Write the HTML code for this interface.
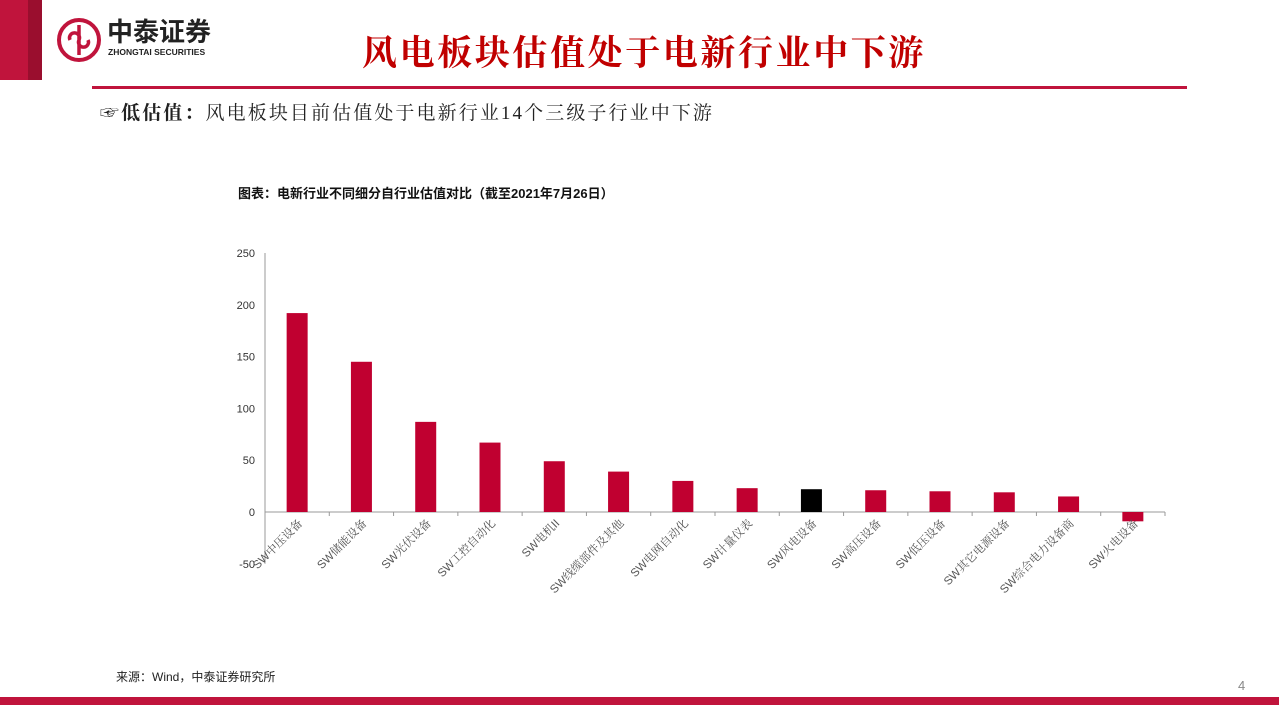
<!DOCTYPE html>
<html><head><meta charset="utf-8">
<style>
body{margin:0;width:1279px;height:719px;background:#fff;position:relative;overflow:hidden;font-family:"Liberation Sans","Noto Sans CJK SC",sans-serif}
.abs{position:absolute;line-height:1;white-space:nowrap}
</style></head><body>
<div class="abs" style="left:0;top:0;width:28px;height:80px;background:#c0143c"></div>
<div class="abs" style="left:28px;top:0;width:14px;height:80px;background:#9a0e2e"></div>
<svg class="abs" style="left:56px;top:17px" width="46" height="46" viewBox="0 0 46 46">
<circle cx="23" cy="23" r="20" fill="none" stroke="#c0143c" stroke-width="4"/>
<path d="M23 8 V38 M14 23 a5 5 0 1 1 9 0 a5 5 0 1 0 9 0" fill="none" stroke="#c0143c" stroke-width="3.5"/>
</svg>
<div class="abs" style="left:107px;top:19px;font-size:26px;font-weight:bold;color:#222">中泰证券</div>
<div class="abs" style="left:108px;top:48px;font-size:8.5px;font-weight:bold;color:#222">ZHONGTAI SECURITIES</div>
<div class="abs" style="left:362px;top:36px;font-size:35px;font-weight:bold;color:#c00000;font-family:'Liberation Serif','Noto Serif CJK SC',serif;letter-spacing:2.6px">风电板块估值处于电新行业中下游</div>
<div class="abs" style="left:92px;top:86px;width:1095px;height:3px;background:#c0143c"></div>
<div class="abs" style="left:100px;top:104px;font-size:19px;color:#222;font-family:'Liberation Serif','Noto Serif CJK SC',serif;letter-spacing:2.1px">☞<b>低估值：</b>风电板块目前估值处于电新行业14个三级子行业中下游</div>
<div class="abs" style="left:238px;top:187px;font-size:13px;font-weight:bold;color:#111">图表：电新行业不同细分自行业估值对比（截至2021年7月26日）</div>
<svg class="abs" style="left:0;top:0" width="1279" height="719" id="chart"></svg>
<div class="abs" style="left:116px;top:671px;font-size:12px;color:#222">来源：Wind，中泰证券研究所</div>
<div class="abs" style="left:1238px;top:679px;font-size:13px;color:#888">4</div>
<div class="abs" style="left:0;top:697px;width:1279px;height:8px;background:#c0143c"></div>
<script>
const categories=["SW中压设备","SW储能设备","SW光伏设备","SW工控自动化","SW电机II","SW线缆部件及其他","SW电网自动化","SW计量仪表","SW风电设备","SW高压设备","SW低压设备","SW其它电源设备","SW综合电力设备商","SW火电设备"];
const values=[192,145,87,67,49,39,30,23,22,21,20,19,15,-9];
const ticks=[-50,0,50,100,150,200,250];
const highlight="SW风电设备";
const NS="http://www.w3.org/2000/svg";
const svg=document.getElementById('chart');
const x0=265,x1=1165,yZero=512,pxPer=259/250;
const y=v=>yZero-v*pxPer;
const band=(x1-x0)/categories.length;
function mk(t,a){const e=document.createElementNS(NS,t);for(const k in a)e.setAttribute(k,a[k]);svg.appendChild(e);return e;}
let ax=mk('line',{x1:x0,y1:y(250),x2:x0,y2:y(-50),stroke:'#999'});


ticks.forEach(t=>{
 const tx=mk('text',{x:x0-10,y:y(t)+4,'text-anchor':'end','font-size':11,fill:'#333','font-family':'Liberation Sans'});
 tx.textContent=t;
 
 
});
let xa=mk('line',{x1:x0,y1:yZero,x2:x1,y2:yZero,stroke:'#999'});


categories.forEach((c,i)=>{
 const tk=mk('line',{x1:x0+band*(i+1),y1:yZero,x2:x0+band*(i+1),y2:yZero+4,stroke:'#999'});
 
 
 const cx=x0+band*(i+0.5),v=values[i],w=21;
 const r=mk('rect',{x:cx-w/2,y:Math.min(y(v),yZero),width:w,height:Math.abs(y(v)-yZero),fill:c===highlight?'#000':'#c00030'});
 
 
 const lx=cx+6,ly=yZero+12;
 const tx=mk('text',{x:lx,y:ly,'text-anchor':'end','font-size':11.5,fill:'#555','font-family':"'Liberation Sans','Noto Serif CJK SC',serif",transform:`rotate(-45 ${lx} ${ly})`});
 tx.textContent=c;
 
 
});
</script>
</body></html>
